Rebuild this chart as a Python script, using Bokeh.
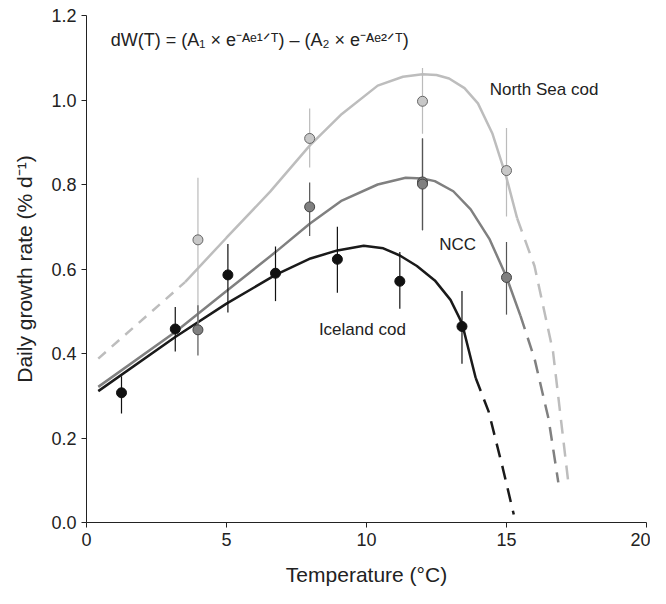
from bokeh.plotting import figure
from bokeh.models import ColumnDataSource, Label, CustomJSTickFormatter
from bokeh.embed import file_html
from bokeh.resources import INLINE

# observations: temperature, mean growth, error bar ends
ice_t = [1.25, 3.17, 5.05, 6.75, 8.96, 11.19, 13.41]
ice_y = [0.307, 0.458, 0.586, 0.590, 0.623, 0.571, 0.464]
ice_lo = [0.258, 0.405, 0.497, 0.524, 0.544, 0.506, 0.376]
ice_hi = [0.346, 0.510, 0.659, 0.653, 0.700, 0.640, 0.548]

ncc_t = [3.98, 7.97, 12.0, 12.0, 15.0]
ncc_y = [0.456, 0.747, 0.806, 0.801, 0.580]
ncc_lo = [0.395, 0.678, 0.692, 0.692, 0.492]
ncc_hi = [0.514, 0.805, 0.909, 0.909, 0.664]

ns_t = [3.98, 7.97, 12.0, 15.0]
ns_y = [0.669, 0.909, 0.997, 0.833]
ns_lo = [0.460, 0.840, 0.920, 0.724]
ns_hi = [0.816, 0.980, 1.076, 0.934]

# fitted curves (solid part and dashed extrapolation)
ns_fit_t = [3.52, 5.0, 6.56, 7.97, 9.12, 10.4, 11.3, 12.0, 12.5, 12.95, 13.5, 13.98, 14.5, 15.0, 15.38]
ns_fit_y = [0.569, 0.674, 0.783, 0.892, 0.967, 1.034, 1.055, 1.061, 1.059, 1.051, 1.028, 0.992, 0.920, 0.816, 0.720]
ns_dash_lo_t = [0.42, 3.52]
ns_dash_lo_y = [0.388, 0.569]
ns_dash_hi_t = [15.38, 16.0, 16.66, 17.2]
ns_dash_hi_y = [0.720, 0.607, 0.405, 0.099]

ncc_fit_t = [0.42, 3.17, 5.0, 6.75, 7.97, 9.12, 10.4, 11.4, 12.0, 12.44, 13.1, 13.72, 14.4, 15.0, 15.5]
ncc_fit_y = [0.321, 0.451, 0.548, 0.640, 0.707, 0.762, 0.800, 0.816, 0.814, 0.808, 0.784, 0.741, 0.670, 0.581, 0.489]
ncc_dash_t = [15.5, 16.0, 16.5, 16.85]
ncc_dash_y = [0.489, 0.388, 0.246, 0.095]

ice_fit_t = [0.42, 3.17, 5.0, 6.75, 8.0, 8.96, 9.9, 10.6, 11.19, 11.8, 12.44, 13.0, 13.41, 13.9]
ice_fit_y = [0.311, 0.439, 0.518, 0.586, 0.625, 0.644, 0.655, 0.649, 0.632, 0.607, 0.573, 0.527, 0.472, 0.342]
ice_dash_t = [13.9, 14.36, 14.87, 15.26]
ice_dash_y = [0.342, 0.263, 0.128, 0.019]

x_ticks = [0, 5, 10, 15, 20]
y_ticks = [0.0, 0.2, 0.4, 0.6, 0.8, 1.0, 1.2]

c_ns = "#bdbdbd"
c_ncc = "#808080"
c_ice = "#1a1a1a"

p = figure(width=650, height=588, x_range=(0, 20), y_range=(0, 1.2),
           output_backend="svg", toolbar_location=None,
           x_axis_label="Temperature (°C)", y_axis_label="Daily growth rate (% d⁻¹)",
           min_border_left=86, min_border_right=4, min_border_top=15, min_border_bottom=60)
p.outline_line_color = None
p.grid.visible = False
p.xaxis.ticker = x_ticks
p.yaxis.ticker = y_ticks
p.yaxis.formatter = CustomJSTickFormatter(code="return tick.toFixed(1);")
for ax in (p.xaxis, p.yaxis):
    ax.axis_label_text_font = "Liberation Sans"
    ax.axis_label_text_font_style = "normal"
    ax.axis_label_text_font_size = "21px"
    ax.axis_label_text_color = "#222222"
    ax.major_label_text_font = "Liberation Sans"
    ax.major_label_text_font_size = "18px"
    ax.major_label_text_color = "#222222"
    ax.axis_line_color = "#222222"
    ax.major_tick_line_color = "#222222"
    ax.minor_tick_line_color = None
    ax.major_tick_in = 0
    ax.major_tick_out = 5
p.xaxis.axis_label_standoff = 14
p.yaxis.axis_label_standoff = 12

p.line(ns_fit_t, ns_fit_y, line_color=c_ns, line_width=2.5)
p.line(ns_dash_lo_t, ns_dash_lo_y, line_color=c_ns, line_width=2.5, line_dash="10 8")
p.line(ns_dash_hi_t, ns_dash_hi_y, line_color=c_ns, line_width=2.5, line_dash="14 9")
p.line(ncc_fit_t, ncc_fit_y, line_color=c_ncc, line_width=2.5)
p.line(ncc_dash_t, ncc_dash_y, line_color=c_ncc, line_width=2.5, line_dash="14 9")
p.line(ice_fit_t, ice_fit_y, line_color=c_ice, line_width=2.5)
p.line(ice_dash_t, ice_dash_y, line_color=c_ice, line_width=2.5, line_dash="14 9")

for t, lo, hi, y, col, bar, edge in [(ns_t, ns_lo, ns_hi, ns_y, "#c8c8c8", "#bbbbbb", "#666666"),
                                      (ncc_t, ncc_lo, ncc_hi, ncc_y, "#808080", "#555555", "#444444"),
                                      (ice_t, ice_lo, ice_hi, ice_y, "#111111", "#111111", "#111111")]:
    src = ColumnDataSource(dict(t=t, lo=lo, hi=hi, y=y))
    p.segment(x0="t", y0="lo", x1="t", y1="hi", source=src, line_color=bar, line_width=1.2)
    p.scatter(x="t", y="y", source=src, size=10, fill_color=col, line_color=edge, line_width=1)

lab = dict(text_font="Liberation Sans", text_font_size="17px", text_color="#222222")
p.add_layout(Label(x=14.4, y=1.025, text="North Sea cod", text_baseline="middle", **lab))
p.add_layout(Label(x=12.6, y=0.657, text="NCC", text_baseline="middle", **lab))
p.add_layout(Label(x=8.3, y=0.457, text="Iceland cod", text_baseline="middle", **lab))
p.add_layout(Label(x=0.87, y=1.143, text="dW(T) = (A₁ × e⁻ᴬᵉ¹ᐟᵀ) – (A₂ × e⁻ᴬᵉ²ᐟᵀ)",
                   text_baseline="middle", text_font="Liberation Sans", text_font_size="18px",
                   text_color="#222222"))

open("out.html", "w").write(file_html(p, INLINE))
